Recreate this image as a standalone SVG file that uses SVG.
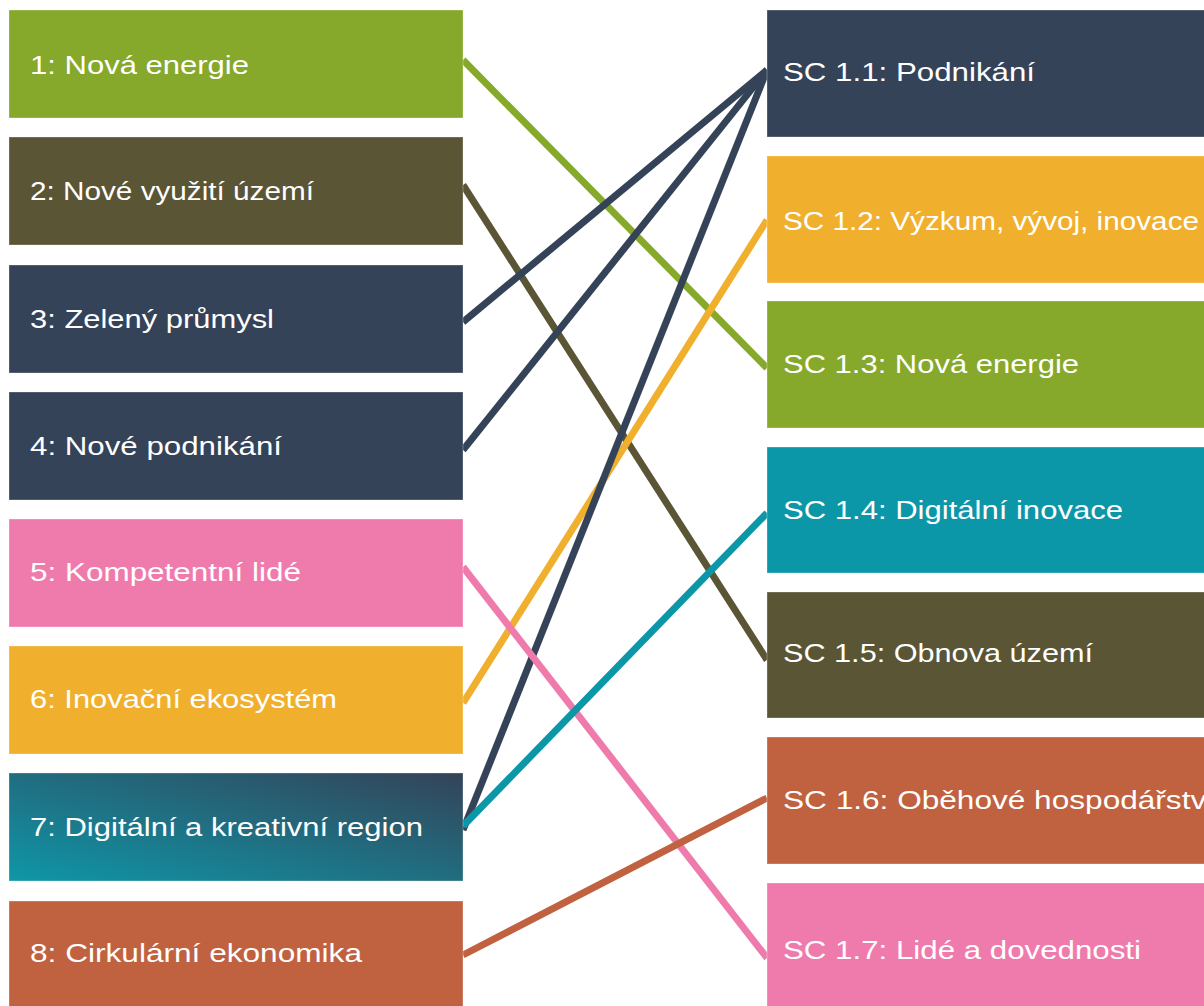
<svg xmlns="http://www.w3.org/2000/svg" width="1204" height="1006" viewBox="0 0 1204 1006">
  <defs>
    <linearGradient id="g7" x1="0" y1="1" x2="1" y2="0">
      <stop offset="0" stop-color="#0E97A8"/>
      <stop offset="1" stop-color="#344358"/>
    </linearGradient>
    <style>
      .box { stroke: #ffffff; stroke-opacity: 0.3; stroke-width: 1; }
      .lbl { font-family: "Liberation Sans", Arial, sans-serif; font-size: 26px; fill: #ffffff; }
      .con { fill: none; stroke-width: 7; stroke-linecap: butt; }
      .green { fill: #86A82B; } .olive { fill: #5A5535; } .navy { fill: #354358; }
      .yellow { fill: #F1AF2E; } .teal { fill: #0C97A8; } .pink { fill: #EF7BAD; } .orange { fill: #C06240; }
    </style>
  </defs>
  <rect x="0" y="0" width="1204" height="1006" fill="#ffffff"/>

  <g id="connectors">
    <line class="con" x1="463" y1="60" x2="767" y2="368" stroke="#86A82B"/>
    <line class="con" x1="463" y1="185" x2="767" y2="660" stroke="#5A5535"/>
    <line class="con" x1="463" y1="322" x2="767" y2="70" stroke="#354358"/>
    <line class="con" x1="463" y1="450" x2="767" y2="70" stroke="#354358"/>
    <line class="con" x1="463" y1="703" x2="767" y2="220" stroke="#F1AF2E"/>
    <line class="con" x1="463" y1="830" x2="767" y2="70" stroke="#354358"/>
    <line class="con" x1="463" y1="567" x2="767" y2="958" stroke="#EF7BAD"/>
    <line class="con" x1="463" y1="955" x2="767" y2="798" stroke="#C06240"/>
    <line class="con" x1="463" y1="826" x2="767" y2="513" stroke="#0C97A8"/>
  </g>

  <g id="n1"><rect class="box green" x="9" y="10" width="454" height="108"/><text class="lbl" x="30" y="74" textLength="219" lengthAdjust="spacingAndGlyphs">1: Nová energie</text></g>
  <g id="n2"><rect class="box olive" x="9" y="137" width="454" height="108"/><text class="lbl" x="30" y="200" textLength="284" lengthAdjust="spacingAndGlyphs">2: Nové využití území</text></g>
  <g id="n3"><rect class="box navy" x="9" y="265" width="454" height="108"/><text class="lbl" x="30" y="328" textLength="244" lengthAdjust="spacingAndGlyphs">3: Zelený průmysl</text></g>
  <g id="n4"><rect class="box navy" x="9" y="392" width="454" height="108"/><text class="lbl" x="30" y="455" textLength="252" lengthAdjust="spacingAndGlyphs">4: Nové podnikání</text></g>
  <g id="n5"><rect class="box pink" x="9" y="519" width="454" height="108"/><text class="lbl" x="30" y="581" textLength="271" lengthAdjust="spacingAndGlyphs">5: Kompetentní lidé</text></g>
  <g id="n6"><rect class="box yellow" x="9" y="646" width="454" height="108"/><text class="lbl" x="30" y="708" textLength="307" lengthAdjust="spacingAndGlyphs">6: Inovační ekosystém</text></g>
  <g id="n7"><rect class="box" fill="url(#g7)" x="9" y="773" width="454" height="108"/><text class="lbl" x="30" y="836" textLength="393" lengthAdjust="spacingAndGlyphs">7: Digitální a kreativní region</text></g>
  <g id="n8"><rect class="box orange" x="9" y="901" width="454" height="120"/><text class="lbl" x="30" y="962" textLength="332" lengthAdjust="spacingAndGlyphs">8: Cirkulární ekonomika</text></g>

  <g id="sc11"><rect class="box navy" x="767" y="10" width="450" height="127"/><text class="lbl" x="783" y="81" textLength="252" lengthAdjust="spacingAndGlyphs">SC 1.1: Podnikání</text></g>
  <g id="sc12"><rect class="box yellow" x="767" y="156" width="450" height="127"/><text class="lbl" x="783" y="230" textLength="416" lengthAdjust="spacingAndGlyphs">SC 1.2: Výzkum, vývoj, inovace</text></g>
  <g id="sc13"><rect class="box green" x="767" y="301" width="450" height="127"/><text class="lbl" x="783" y="373" textLength="296" lengthAdjust="spacingAndGlyphs">SC 1.3: Nová energie</text></g>
  <g id="sc14"><rect class="box teal" x="767" y="447" width="450" height="126"/><text class="lbl" x="783" y="519" textLength="340" lengthAdjust="spacingAndGlyphs">SC 1.4: Digitální inovace</text></g>
  <g id="sc15"><rect class="box olive" x="767" y="592" width="450" height="126"/><text class="lbl" x="783" y="662" textLength="310" lengthAdjust="spacingAndGlyphs">SC 1.5: Obnova území</text></g>
  <g id="sc16"><rect class="box orange" x="767" y="737" width="450" height="127"/><text class="lbl" x="783" y="809" textLength="432" lengthAdjust="spacingAndGlyphs">SC 1.6: Oběhové hospodářství</text></g>
  <g id="sc17"><rect class="box pink" x="767" y="883" width="450" height="140"/><text class="lbl" x="783" y="959" textLength="358" lengthAdjust="spacingAndGlyphs">SC 1.7: Lidé a dovednosti</text></g>
</svg>
